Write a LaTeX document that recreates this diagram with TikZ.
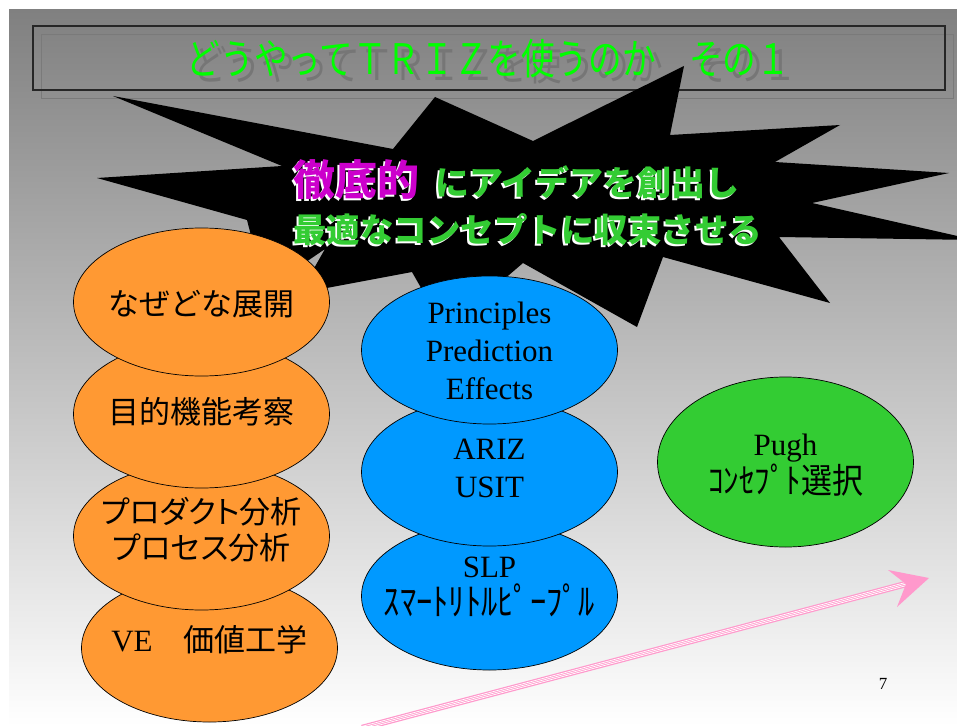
\documentclass[tikz,border=0pt]{standalone}
\usepackage{fontspec}
\setmainfont{Liberation Serif}
\newfontfamily\jp{Noto Sans CJK JP}
\newfontfamily\jpp[RawFeature=+palt]{Noto Sans CJK JP}
\usetikzlibrary{shapes.geometric,calc}
\definecolor{bgtop}{HTML}{808080}
\definecolor{titlegreen}{HTML}{00FF00}
\definecolor{titleshadow}{HTML}{767676}
\definecolor{boxshadow}{HTML}{7A7A7A}
\definecolor{stargreen}{HTML}{33CC33}
\definecolor{starmag}{HTML}{CC00CC}
\definecolor{ovalorange}{HTML}{FF9933}
\definecolor{ovalblue}{HTML}{0099FF}
\definecolor{ovalgreen}{HTML}{33CC33}
\definecolor{arrowpink}{HTML}{FF99CC}
% text with an offset shadow copy: #1 colour, #2 dx, #3 dy (down), #4 text
\newcommand\shadowed[4]{\makebox[0pt][l]{\kern#2\raisebox{-#3}{\textcolor{#1}{#4}}}#4}
\newcommand\titlestring{どうやってＴＲＩＺを使うのか　その１}
\begin{document}
\begin{tikzpicture}[x=1bp,y=-1bp,
  oval/.style={ellipse, draw=black, line width=0.7bp, inner sep=0pt,
    minimum width=256bp, minimum height=148bp},
  lbl/.style={inner sep=0pt, align=center, text=black},
  jptxt/.style={font=\jp\fontsize{31bp}{36bp}\selectfont},
  lattxt/.style={font=\fontsize{31bp}{38bp}\selectfont},
  startxt/.style={inner sep=0pt, anchor=base west},
  titletxt/.style={inner sep=0pt}]
\useasboundingbox (0,0) rectangle (957,726);
% background
\fill[white] (0,0) rectangle (957,726);
\shade[top color=bgtop, bottom color=white] (9,10) rectangle (957,726);
% title box with shadow
\draw[boxshadow, line width=0.8bp] (41,34) rectangle (953,98);
\draw[black!85, line width=1.2bp] (33,26) rectangle (945,90);
% starburst
\fill[black] (113,96) -- (393,149) -- (435,97) -- (533,141) -- (684,66)
  -- (670,135) -- (840,125) -- (775,162) -- (949,173) -- (812,203)
  -- (975,240) -- (779,237) -- (830,303) -- (663,257) -- (637,327)
  -- (523,263) -- (445,330) -- (412,272) -- (300,293) -- (325,249)
  -- (265,290) -- (247,220) -- (97,178) -- (282,166) -- cycle;
% title
\node[titletxt, text=titlegreen] (title) at (488.5,62)
  {\jp\fontsize{42bp}{42bp}\selectfont\shadowed{titleshadow}{7bp}{6bp}{\scalebox{0.8}[1]{\titlestring}}};
% star text
\node[startxt, text=starmag] (s1a) at (293,195)
  {\jp\bfseries\fontsize{42bp}{42bp}\selectfont\shadowed{white}{-2bp}{2bp}{徹底的}};
\node[startxt, text=stargreen] (s1b) at (435,195)
  {\jp\bfseries\fontsize{34bp}{34bp}\selectfont\shadowed{white}{-2bp}{2bp}{にアイデアを創出し}};
\node[startxt, text=stargreen] (s2) at (293,242.5)
  {\jp\bfseries\fontsize{33.5bp}{33.5bp}\selectfont\shadowed{white}{-2bp}{2bp}{最適なコンセプトに収束させる}};
% orange ellipses
\node[oval, fill=ovalorange] (e4) at (209.5,648) {};
\node[oval, fill=ovalorange] (e3) at (201.5,536) {};
\node[oval, fill=ovalorange] (e2) at (201.5,414) {};
\node[oval, fill=ovalorange] (e1) at (201.5,302) {};
% blue ellipses
\node[oval, fill=ovalblue] (b3) at (489.5,596) {};
\node[oval, fill=ovalblue] (b2) at (489.5,472) {};
\node[oval, fill=ovalblue] (b1) at (489.5,350) {};
% green ellipse
\node[oval, fill=ovalgreen, minimum height=170bp] (g1) at (785.5,462) {};
% ellipse texts
\node[lbl, jptxt] (t1) at ([yshift=-2bp]e1.center) {なぜどな展開};
\node[lbl, jptxt] (t2) at ([yshift=2bp]e2.center) {目的機能考察};
\node[lbl, font=\jpp\fontsize{31bp}{36bp}\selectfont] (t3) at ([yshift=6bp]e3.center) {プロダクト分析\\プロセス分析};
\node[lbl, lattxt] (t4) at ([yshift=8bp]e4.center) {VE\jp\fontsize{31bp}{31bp}\selectfont 　価値工学};
\node[lbl, lattxt] (u1) at ([yshift=-1bp]b1.center) {Principles\\Prediction\\Effects};
\node[lbl, lattxt] (u2) at ([yshift=4bp]b2.center) {ARIZ\\USIT};
\node[lbl, lattxt] (u3) at ([yshift=9bp]b3.center) {SLP\\{\jp\fontsize{32.5bp}{32.5bp}\selectfont\scalebox{1}[1.15]{ｽﾏｰﾄﾘﾄﾙﾋﾟｰﾌﾟﾙ}}};
\node[lbl, lattxt] (v1) at ([yshift=-3bp]g1.center) {Pugh\\{\jp\fontsize{31bp}{31bp}\selectfont\scalebox{1}[1.12]{ｺﾝｾﾌﾟﾄ選択}}};
% page number
\node[lbl, font=\fontsize{17bp}{17bp}\selectfont] (pnum) at (883,684) {7};
% pink arrow
\coordinate (arrS) at (362,728);
\coordinate (arrE) at (906,584);
\coordinate (arrTip) at (929,578);
\coordinate (arrB1) at (888,570);
\coordinate (arrB2) at (897,607);
\draw[arrowpink, line width=6.4bp] (arrS) -- (arrE);
\draw[white, line width=0.7bp] (arrS) -- (arrE);
\draw[white, line width=0.7bp] ($(arrS)!1.6bp!90:(arrE)$) -- ($(arrE)!1.6bp!-90:(arrS)$);
\draw[white, line width=0.7bp] ($(arrS)!1.6bp!-90:(arrE)$) -- ($(arrE)!1.6bp!90:(arrS)$);
\fill[arrowpink] (arrTip) -- (arrB1) -- (arrE) -- (arrB2) -- cycle;
\end{tikzpicture}
\end{document}
